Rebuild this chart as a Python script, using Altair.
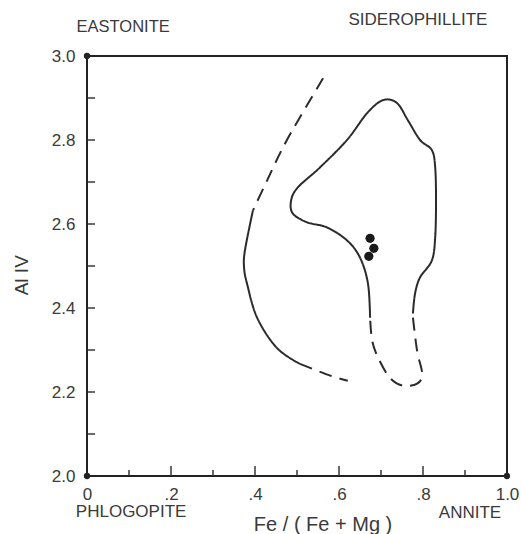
import altair as alt
import pandas as pd

# ---- data ----
inner_solid_x = [0.674, 0.669, 0.650, 0.619, 0.571, 0.524, 0.490, 0.486, 0.502, 0.555, 0.619, 0.667,
                 0.705, 0.738, 0.764, 0.793, 0.821, 0.829, 0.831, 0.829, 0.821, 0.793, 0.781, 0.776]
inner_solid_y = [2.377, 2.458, 2.520, 2.561, 2.592, 2.604, 2.625, 2.656, 2.687, 2.735, 2.800, 2.864,
                 2.895, 2.888, 2.847, 2.800, 2.776, 2.735, 2.656, 2.568, 2.513, 2.473, 2.434, 2.387]
inner_dash_x = [0.776, 0.786, 0.798, 0.786, 0.752, 0.721, 0.693, 0.679, 0.674]
inner_dash_y = [2.377, 2.298, 2.243, 2.220, 2.215, 2.234, 2.282, 2.322, 2.377]
outer_dash_top_x = [0.562, 0.476, 0.429, 0.395]
outer_dash_top_y = [2.947, 2.800, 2.704, 2.632]
outer_solid_x = [0.395, 0.376, 0.374, 0.381, 0.405, 0.452, 0.507]
outer_solid_y = [2.632, 2.537, 2.496, 2.458, 2.377, 2.305, 2.267]
outer_dash_bot_x = [0.507, 0.579, 0.621]
outer_dash_bot_y = [2.267, 2.239, 2.227]

points_x = [0.674, 0.683, 0.671]
points_y = [2.566, 2.542, 2.523]

x_minor_ticks = [0.1, 0.3, 0.5, 0.7, 0.9]
x_major_ticks = [0.2, 0.4, 0.6, 0.8]
y_ticks = [2.1, 2.2, 2.3, 2.4, 2.5, 2.6, 2.7, 2.8, 2.9]
x_labels = [0.0, 0.2, 0.4, 0.6, 0.8, 1.0]
y_labels = [2.0, 2.2, 2.4, 2.6, 2.8, 3.0]
corner_x = [0.0, 0.0, 1.0]
corner_y = [3.0, 2.0, 2.0]

label_text = ["EASTONITE", "SIDEROPHILLITE", "PHLOGOPITE", "ANNITE", "Fe / ( Fe + Mg )", "Al IV"]
label_x = [0.086, 0.788, 0.105, 0.912, 0.562, -0.155]
label_y = [3.069, 3.086, 1.914, 1.912, 1.883, 2.478]
label_size = [16.5, 17, 17, 17, 20, 19]
label_angle = [0, 0, 0, 0, 0, 270]

# ---- tables ----
segs = [
    ("inner_solid", "solid", inner_solid_x, inner_solid_y),
    ("inner_dash", "dashed", inner_dash_x, inner_dash_y),
    ("outer_dash_top", "dashed", outer_dash_top_x, outer_dash_top_y),
    ("outer_solid", "solid", outer_solid_x, outer_solid_y),
    ("outer_dash_bot", "dashed", outer_dash_bot_x, outer_dash_bot_y),
]
rows = []
for name, style, xs_, ys_ in segs:
    for i, (a, b) in enumerate(zip(xs_, ys_)):
        rows.append({"x": a, "y": b, "seg": name, "style": style, "order": i})
curves = pd.DataFrame(rows)
pts = pd.DataFrame({"x": points_x, "y": points_y})
corners = pd.DataFrame({"x": corner_x, "y": corner_y})
xmin = pd.DataFrame({"x": x_minor_ticks})
xmaj = pd.DataFrame({"x": x_major_ticks})
yt = pd.DataFrame({"y": y_ticks})
labels = pd.DataFrame({"t": label_text, "x": label_x, "y": label_y,
                       "s": label_size, "a": label_angle})

FONT = "Liberation Sans"
INK = "#2b2b2b"
TXT = "#3a3a3a"

xs = alt.Scale(domain=[0, 1], nice=False, zero=False)
ys = alt.Scale(domain=[2, 3], nice=False, zero=False)

xaxis = alt.Axis(values=x_labels, ticks=False, domain=False, grid=False, title=None,
                 labelExpr="datum.value == 0 ? '0' : datum.value == 1 ? '1.0' : replace(format(datum.value, '.1f'), '0.', '.')",
                 labelFontSize=17, labelColor=TXT, labelFont=FONT, labelPadding=10,
                 labelFlush=False, labelOverlap=False)
yaxis = alt.Axis(values=y_labels, format=".1f", ticks=False, domain=False, grid=False, title=None,
                 labelFontSize=17, labelColor=TXT, labelFont=FONT, labelPadding=12,
                 labelOverlap=False)

lines = alt.Chart(curves).mark_line(interpolate="cardinal", strokeWidth=2, color=INK).encode(
    x=alt.X("x:Q", scale=xs, axis=xaxis),
    y=alt.Y("y:Q", scale=ys, axis=yaxis),
    detail="seg:N",
    order="order:Q",
    strokeDash=alt.StrokeDash("style:N", scale=alt.Scale(domain=["solid", "dashed"],
                                                          range=[[1, 0], [13, 8]]), legend=None),
)

dots = alt.Chart(pts).mark_circle(size=85, color="#1a1a1a", opacity=1).encode(x="x:Q", y="y:Q")
cdots = alt.Chart(corners).mark_circle(size=40, color="#222", opacity=1).encode(x="x:Q", y="y:Q")

tmin = alt.Chart(xmin).mark_tick(orient="vertical", size=6, thickness=2, color=INK, yOffset=-3).encode(
    x="x:Q", y=alt.datum(2.0))
tmaj = alt.Chart(xmaj).mark_tick(orient="vertical", size=10, thickness=2, color=INK, yOffset=-5).encode(
    x="x:Q", y=alt.datum(2.0))
ytk = alt.Chart(yt).mark_tick(orient="horizontal", size=8, thickness=2, color=INK, xOffset=4).encode(
    y="y:Q", x=alt.datum(0.0))

txt = alt.Chart(labels).mark_text(font=FONT, color=TXT, align="center", baseline="middle").encode(
    x="x:Q", y="y:Q", text="t:N",
    size=alt.Size("s:Q", scale=None),
    angle=alt.Angle("a:Q", scale=None),
)

chart = alt.layer(lines, tmin, tmaj, ytk, cdots, dots, txt).properties(
    width=420, height=420,
    autosize=alt.AutoSizeParams(type="none"),
    padding={"left": 87, "top": 56, "right": 14, "bottom": 58},
).configure_view(stroke="#222222", strokeWidth=2)

chart.save("out.html", embed_options={"renderer": "svg", "actions": False})
